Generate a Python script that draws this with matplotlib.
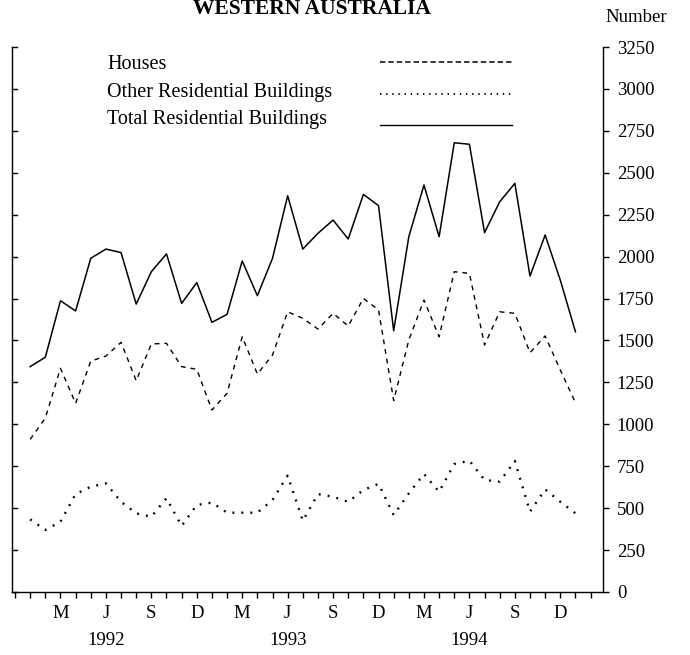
import matplotlib
matplotlib.use('Agg')
from matplotlib import pyplot as plt
import numpy as np

plt.rcParams['font.family'] = ['Liberation Serif', 'DejaVu Serif']

# monthly values, Jan 1992 .. Jan 1995
houses = [910, 1037, 1334, 1125, 1377, 1407, 1489, 1260, 1479, 1483, 1344, 1328,
          1085, 1185, 1522, 1300, 1413, 1671, 1632, 1568, 1662, 1586, 1751, 1682,
          1141, 1503, 1741, 1522, 1910, 1900, 1473, 1671, 1662, 1427, 1527, 1324,
          1129]
other = [433, 370, 419, 584, 628, 648, 538, 469, 449, 559, 394, 519,
         533, 473, 473, 473, 549, 694, 425, 584, 568, 538, 608, 645,
         459, 588, 704, 598, 763, 783, 668, 658, 781, 479, 612, 538,
         469]
total = [1344, 1400, 1737, 1676, 1990, 2045, 2024, 1717, 1910, 2016, 1721, 1845,
         1608, 1656, 1974, 1767, 1990, 2363, 2045, 2139, 2218, 2105, 2371, 2304,
         1558, 2119, 2427, 2119, 2679, 2670, 2143, 2327, 2437, 1884, 2129, 1860,
         1552]
month_labels = ['M', 'J', 'S', 'D'] * 3
month_pos = [2, 5, 8, 11, 14, 17, 20, 23, 26, 29, 32, 35]
years = ['1992', '1993', '1994']
year_pos = [5, 17, 29]
y_ticks = list(range(0, 3251, 250))

fig = plt.figure(figsize=(6.9, 6.55), dpi=100)
ax = fig.add_axes([12 / 690, 1 - 592 / 655, 591 / 690, 545 / 655])

x = np.arange(len(total))
ax.plot(x, houses, color='black', lw=1.0, dashes=(3.5, 3.5))
ax.plot(x, other, color='black', lw=1.7, dashes=(0.8, 3.0))
ax.plot(x, total, color='black', lw=1.1)

ax.set_xlim(-1.2, 37.82)
ax.set_ylim(0, 3250)

# axes: right labelled axis, plain left axis, no top
ax.spines['top'].set_visible(False)
for s in ['left', 'right', 'bottom']:
    ax.spines[s].set_linewidth(1.0)
ax.yaxis.tick_right()
ax.set_yticks(y_ticks)
ax.tick_params(axis='y', which='major', direction='out', length=4.5, width=1.0,
               pad=5.5, labelsize=13.5, right=True, left=False)
# inward ticks on left spine
for v in y_ticks:
    ax.plot([0, 0.009], [v, v], transform=ax.get_yaxis_transform(), color='black', lw=1.0,
            clip_on=False)

ax.set_xticks(np.arange(-1, 38))
ax.set_xticklabels([])
ax.tick_params(axis='x', direction='out', length=4, width=1.0)
for p, lab in zip(month_pos, month_labels):
    ax.text(p, -130, lab, ha='center', va='center', fontsize=13.5)
for p, lab in zip(year_pos, years):
    ax.text(p, -290, lab, ha='center', va='center', fontsize=13.5)

# legend
leg = [('Houses', 0.9596, 0.9725, dict(dashes=(3.5, 2.0), lw=1.1)),
       ('Other Residential Buildings', 0.9088, 0.9138, dict(dashes=(0.8, 2.6), lw=1.3)),
       ('Total Residential Buildings', 0.8587, 0.857, dict(lw=1.0))]
for lab, ty, ly, kw in leg:
    ax.text(0.1607, ty, lab, transform=ax.transAxes, fontsize=14.5, va='baseline')
    ax.plot([0.6227, 0.846], [ly, ly], transform=ax.transAxes, color='black', **kw)

fig.text(312 / 690, 1 - 14 / 655, 'WESTERN AUSTRALIA', ha='center', va='baseline',
         fontsize=15.5, fontweight='bold')
fig.text(667 / 690, 1 - 18 / 655, 'Number', ha='right', va='center', fontsize=13.5)

fig.savefig('out.png', dpi=100)
